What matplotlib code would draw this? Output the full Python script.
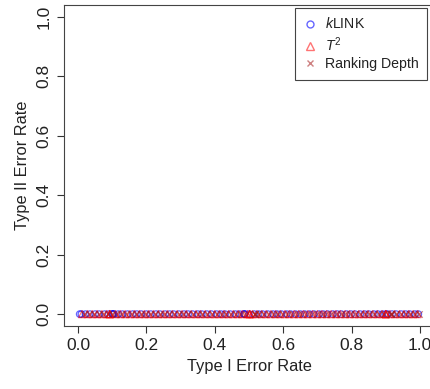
import matplotlib
matplotlib.use("Agg")
import matplotlib.pyplot as plt
from matplotlib.lines import Line2D

plt.rcParams['font.family'] = ['Liberation Sans', 'DejaVu Sans']
plt.rcParams['mathtext.fontset'] = 'custom'
plt.rcParams['mathtext.rm'] = 'Liberation Sans'
plt.rcParams['mathtext.it'] = 'Liberation Sans:italic'

# Type I error rates (x) for each method; Type II error rates all ~0
klink_x = [0.005, 0.01, 0.022, 0.035, 0.05, 0.062, 0.078, 0.09, 0.1, 0.102, 0.102, 0.105,
           0.118, 0.13, 0.145, 0.16, 0.172, 0.185, 0.2, 0.213, 0.228, 0.24, 0.255, 0.268,
           0.28, 0.295, 0.31, 0.322, 0.335, 0.35, 0.362, 0.377, 0.39, 0.405, 0.418, 0.43,
           0.445, 0.46, 0.472, 0.485, 0.487, 0.487, 0.5, 0.515, 0.528, 0.54, 0.555, 0.57,
           0.582, 0.595, 0.61, 0.622, 0.636, 0.65, 0.663, 0.677, 0.69, 0.705, 0.717, 0.73,
           0.745, 0.758, 0.77, 0.785, 0.798, 0.81, 0.825, 0.838, 0.85, 0.865, 0.877, 0.89,
           0.9, 0.905, 0.918, 0.93, 0.945, 0.958, 0.97, 0.985, 0.995]
t2_x = [0.012, 0.028, 0.042, 0.056, 0.07, 0.084, 0.093, 0.093, 0.093, 0.11, 0.124, 0.138,
        0.152, 0.166, 0.18, 0.194, 0.207, 0.221, 0.235, 0.249, 0.262, 0.276, 0.29, 0.304,
        0.317, 0.331, 0.345, 0.358, 0.372, 0.386, 0.4, 0.413, 0.427, 0.44, 0.454, 0.468,
        0.48, 0.495, 0.502, 0.502, 0.502, 0.51, 0.523, 0.537, 0.55, 0.564, 0.578, 0.591,
        0.605, 0.618, 0.632, 0.645, 0.659, 0.672, 0.686, 0.7, 0.713, 0.727, 0.74, 0.754,
        0.767, 0.781, 0.794, 0.808, 0.821, 0.835, 0.848, 0.862, 0.875, 0.889, 0.9, 0.9,
        0.9, 0.912, 0.926, 0.94, 0.953, 0.967, 0.98, 0.993]
rd_x = [0.018, 0.032, 0.046, 0.06, 0.074, 0.088, 0.098, 0.112, 0.127, 0.141, 0.155, 0.169,
        0.183, 0.197, 0.211, 0.225, 0.239, 0.252, 0.266, 0.28, 0.294, 0.308, 0.322, 0.336,
        0.35, 0.364, 0.378, 0.392, 0.406, 0.42, 0.434, 0.448, 0.462, 0.476, 0.49, 0.517,
        0.517, 0.517, 0.53, 0.544, 0.558, 0.572, 0.586, 0.6, 0.614, 0.628, 0.642, 0.656,
        0.67, 0.684, 0.698, 0.712, 0.726, 0.74, 0.754, 0.768, 0.782, 0.796, 0.81, 0.824,
        0.838, 0.852, 0.866, 0.88, 0.894, 0.915, 0.915, 0.915, 0.93, 0.944, 0.958, 0.972,
        0.986, 0.998]
klink_y = [0.0] * len(klink_x)
t2_y = [0.0] * len(t2_x)
rd_y = [0.0] * len(rd_x)

ticks = [0.0, 0.2, 0.4, 0.6, 0.8, 1.0]
tick_labels = ["0.0", "0.2", "0.4", "0.6", "0.8", "1.0"]
labels = [r'$k$LINK', r'$T^2$', 'Ranking Depth']

fig = plt.figure(figsize=(4.30, 3.89), dpi=100)
ax = fig.add_axes([64.3 / 430, (389 - 326) / 389, (433.7 - 64.3) / 430, (326 - 5) / 389])

blue = (0, 0, 1, 0.6)
red = (1, 0, 0, 0.55)
brown = (0.65, 0.1, 0.1, 0.55)

ax.scatter(klink_x, klink_y, s=22, facecolors='none', edgecolors=[blue], linewidths=0.9, zorder=3)
ax.scatter(t2_x, t2_y, s=26, marker='^', facecolors='none', edgecolors=[red], linewidths=0.9, zorder=3)
ax.scatter(rd_x, rd_y, s=22, marker='x', c=[brown], linewidths=0.9, zorder=3)

ax.set_xlim(-0.04, 1.04)
ax.set_ylim(-0.04, 1.04)
ax.set_xticks(ticks)
ax.set_xticklabels(tick_labels)
ax.set_yticks(ticks)
ax.set_yticklabels(tick_labels, rotation=90, va='center')
ax.tick_params(direction='out', length=5, width=0.8, colors='#333333', labelsize=12.5,
               labelcolor='#222222', pad=4)
for sp in ax.spines.values():
    sp.set_color('#444444')
    sp.set_linewidth(0.8)
ax.set_xlabel('Type I Error Rate', fontsize=11.8, color='#222222', labelpad=4)
ax.set_ylabel('Type II Error Rate', fontsize=11.8, color='#222222', labelpad=5)

handles = [
    Line2D([], [], marker='o', linestyle='none', markerfacecolor='none', markeredgecolor=blue, markersize=5),
    Line2D([], [], marker='^', linestyle='none', markerfacecolor='none', markeredgecolor=red, markersize=6),
    Line2D([], [], marker='x', linestyle='none', color=brown, markersize=5),
]
leg = fig.legend(handles, labels, loc='upper right', bbox_to_anchor=(427 / 430, 1 - 8 / 389),
                 fancybox=False, edgecolor='#444444', fontsize=10.2, handlelength=0.9,
                 handletextpad=0.6, borderpad=0.6, labelspacing=0.25, framealpha=1,
                 borderaxespad=0)
leg.get_frame().set_linewidth(0.8)
for t in leg.get_texts():
    t.set_color('#222222')

fig.savefig('out.png', dpi=100)
